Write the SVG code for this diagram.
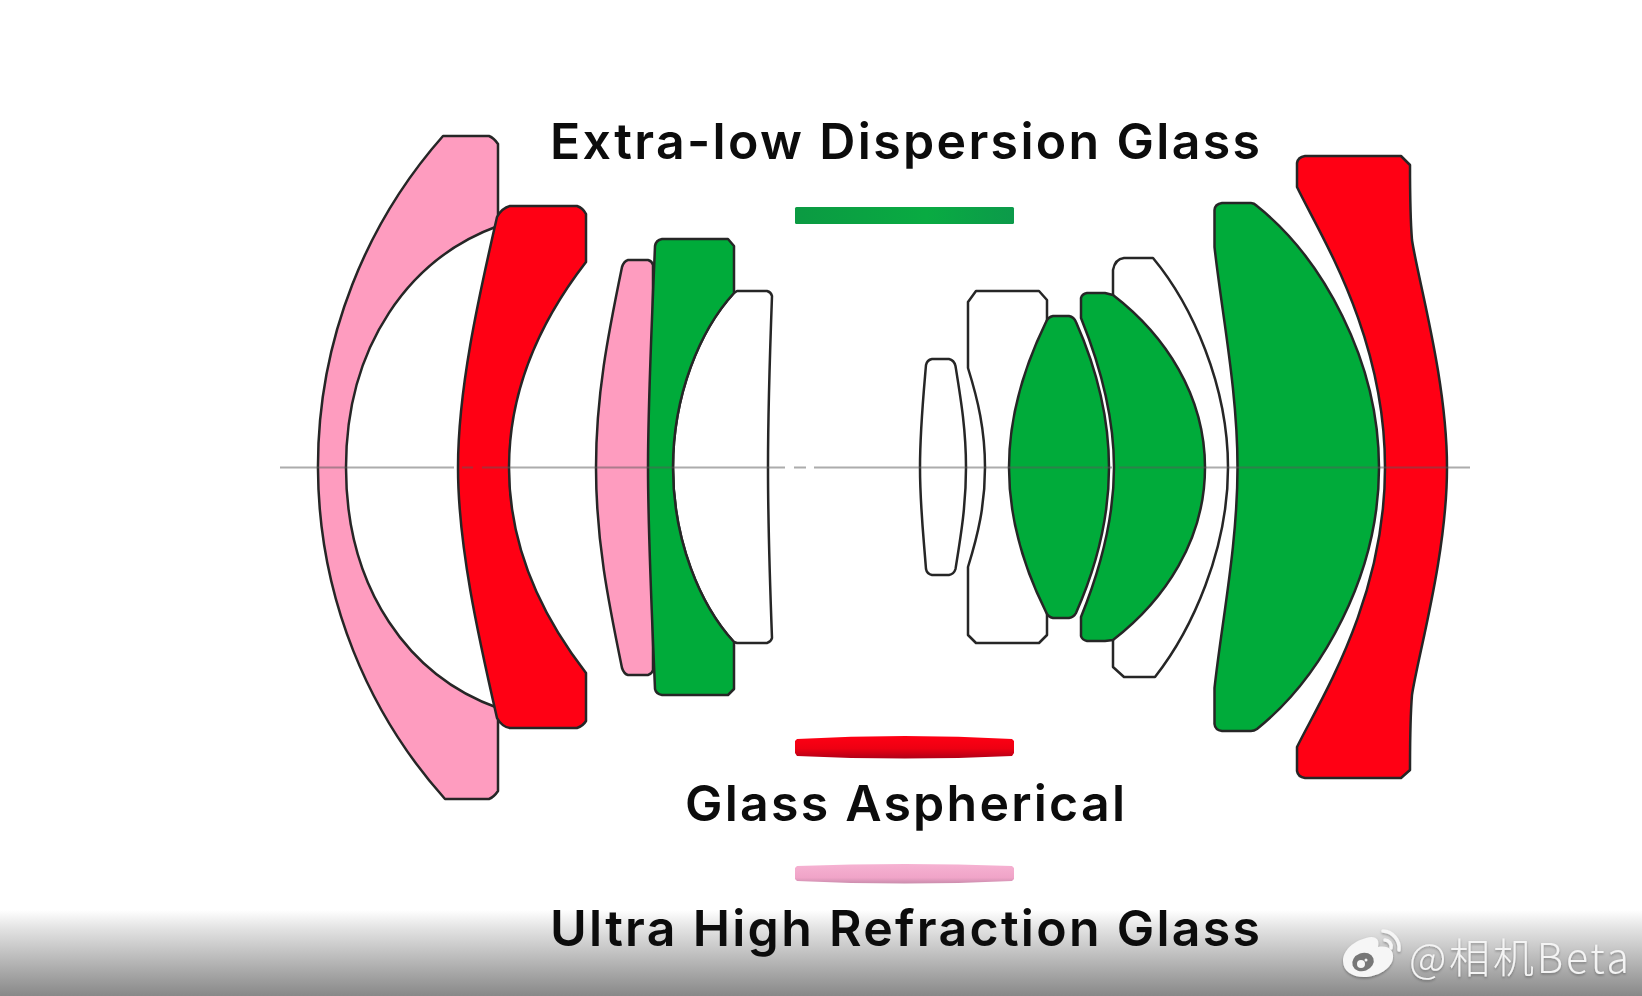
<svg xmlns="http://www.w3.org/2000/svg" width="1642" height="996" viewBox="0 0 1642 996">
<style>
.l{stroke:#262626;stroke-width:2.5;stroke-linejoin:round}
.p{fill:#fe9cbf}.r{fill:#ff0014}.g{fill:#00ab3a}.w{fill:#fff}
.t{font-family:Inter,"Liberation Sans",sans-serif;font-weight:600;font-size:50px;fill:#0c0c0c;text-anchor:middle}
</style>
<defs>
<linearGradient id="fade" x1="0" y1="0" x2="0" y2="1"><stop offset="0" stop-color="#fff"/><stop offset=".22" stop-color="#e2e2e2"/><stop offset="1" stop-color="#888"/></linearGradient>
<linearGradient id="gb" x1="0" y1="0" x2="1" y2="0"><stop offset="0" stop-color="#0b9a42"/><stop offset=".6" stop-color="#09ab42"/><stop offset="1" stop-color="#0c9a4a"/></linearGradient>
<linearGradient id="rb" x1="0" y1="0" x2="0" y2="1"><stop offset="0" stop-color="#ff0014"/><stop offset=".55" stop-color="#ee0012"/><stop offset="1" stop-color="#b00018"/></linearGradient>
<linearGradient id="pb" x1="0" y1="0" x2="0" y2="1"><stop offset="0" stop-color="#f6b2d2"/><stop offset=".7" stop-color="#f0a4c8"/><stop offset="1" stop-color="#c98cac"/></linearGradient>
<filter id="sh" x="-10%" y="-20%" width="120%" height="140%"><feDropShadow dx="0" dy="1.5" stdDeviation="1.2" flood-color="#000" flood-opacity=".3"/></filter>
</defs>
<rect width="1642" height="996" fill="#fff"/>
<rect id="fade-band" y="910" width="1642" height="86" fill="url(#fade)"/>
<g id="lens-a"><path class="l p" d="M445 136H489Q494 138 498 144V226C410 258 346 345 346 467.5C346 590 410 677 498 708V791Q494 797 489 799H445A499 499 0 0 1 443 136Z"/></g>
<g id="lens-b"><path class="l r" d="M510 206H577Q583 208 586 214V262C545 315 509 385 509 467.5C509 550 545 620 586 673V721Q583 726 577 728H510Q502 727 497 718C478 635 458 545 458 467.5C458 390 478 300 497 217Q502 208 510 206Z"/></g>
<g id="lens-c"><path class="l p" d="M628 260H648Q652 261 653 265V670Q652 674 648 675H628Q624 674 622 668C608 600 596 540 596 467.5C596 395 608 335 622 267Q624 261 628 260Z"/></g>
<g id="lens-e"><path class="l w" d="M734 293L737 291H767Q771 292 772 296C770 350 768 410 768 467.5C768 525 770 585 772 638Q771 642 767 643H737L734 642C700 605 673 540 673 467.5C673 395 700 330 734 293Z"/></g>
<g id="lens-d"><path class="l g" d="M662 239H728L734 246V293C700 330 673 395 673 467.5C673 540 700 605 734 642V689L728 695H662Q656 694 655 689C652 615 648 535 648 467.5C648 400 652 320 655 246Q656 240 662 239Z"/></g>
<g id="lens-f"><path class="l w" d="M932 359H949Q954 360 955.5 366C961 400 966 430 966 467.5C966 505 961 535 955.5 569Q954 574 949 575H932Q927 574 926 569C923 530 920 505 920 467.5C920 430 923 400 926 365Q927 360 932 359Z"/></g>
<g id="lens-g"><path class="l w" d="M976 291H1039L1047 300V635L1039 643H976L968 635V567C978 535 985 505 985 467.5C985 430 978 400 968 368V302Z"/></g>
<g id="lens-h"><path class="l g" d="M1053 316H1069Q1074 317 1076 322C1095 365 1109 415 1109 467.5C1109 520 1095 570 1076 613Q1074 617 1069 618H1053Q1048 617 1046 612C1025 570 1009 520 1009 467.5C1009 415 1025 365 1046 322Q1048 317 1053 316Z"/></g>
<g id="lens-j"><path class="l w" d="M1113 296V270Q1115 259 1124 258H1153C1192 305 1228 385 1228 467.5C1228 550 1192 630 1155 677H1124L1113 667V640L1150 467.5Z"/></g>
<g id="lens-i"><path class="l g" d="M1087 293H1105L1113 295C1165 335 1205 395 1205 467.5C1205 540 1165 600 1113 640L1105 641H1087Q1082 640 1081 636V617C1100 570 1114 520 1114 467.5C1114 415 1100 365 1081 318V298Q1082 294 1087 293Z"/></g>
<g id="lens-k"><path class="l g" d="M1222 203H1251Q1254 203 1257 206C1322 258 1379 360 1379 467.5C1379 575 1322 677 1257 729Q1254 731 1251 731H1222Q1215 730 1214.5 724V688C1222 620 1237.5 545 1237.5 467.5C1237.5 390 1222 315 1214.5 247V210Q1215 204 1222 203Z"/></g>
<g id="lens-l"><path class="l r" d="M1305 156H1401L1410 165C1410 190 1410 215 1412 240C1418 280 1447 380 1447 467.5C1447 555 1418 655 1412 695C1410 720 1410 745 1410 770L1401 778H1305Q1298 777 1297 771V747C1320 700 1385 600 1385 467.5C1385 335 1320 235 1297 187V163Q1298 157 1305 156Z"/></g>
<g id="connectors" stroke="#5a5a5a" stroke-opacity=".5" stroke-width="2" fill="none">
<path id="axis" d="M280 467.5H454M462 467.5H473M482 467.5H785M794 467.5H806M814 467.5H1103M1104 467.5H1112M1119 467.5H1470"/>
</g>
<g id="legend-ed"><rect x="795" y="207" width="219" height="17" rx="1.5" fill="url(#gb)"/><text class="t" x="905" y="158.5" textLength="710">Extra-low Dispersion Glass</text></g>
<g id="legend-asph"><path d="M797 739Q905 733 1012 739L1014 741V753L1012 756Q905 761 797 756L795 753V741Z" fill="url(#rb)"/><text class="t" x="905" y="821" textLength="440">Glass Aspherical</text></g>
<g id="legend-uhr"><path d="M797 866Q905 862 1012 866L1014 868V879L1012 881Q905 886 797 881L795 879V868Z" fill="url(#pb)"/><text class="t" x="905" y="946" textLength="710">Ultra High Refraction Glass</text></g>
<g id="watermark" filter="url(#sh)">
<path d="M1343 961C1343 950 1354 941 1366 938C1376 935 1380 940 1378 947C1388 945 1394 950 1393 958C1392 969 1377 977 1364 977C1352 977 1343 971 1343 961Z" fill="#f6f6f6"/>
<ellipse cx="1363" cy="962" rx="11" ry="9" fill="#777" transform="rotate(-20 1363 962)"/>
<circle cx="1361" cy="964" r="4" fill="#f6f6f6"/><circle cx="1366" cy="960" r="1.5" fill="#f6f6f6"/>
<path d="M1385 940A6.5 6.5 0 0 1 1391 948M1383 931A17 17 0 0 1 1399 950" fill="none" stroke="#f6f6f6" stroke-width="3.5" stroke-linecap="round"/>
<text x="1409" y="973" font-family="'Noto Sans CJK SC',sans-serif" font-size="41" font-weight="300" fill="#f4f4f4" textLength="220">@相机Beta</text>
</g>
</svg>
